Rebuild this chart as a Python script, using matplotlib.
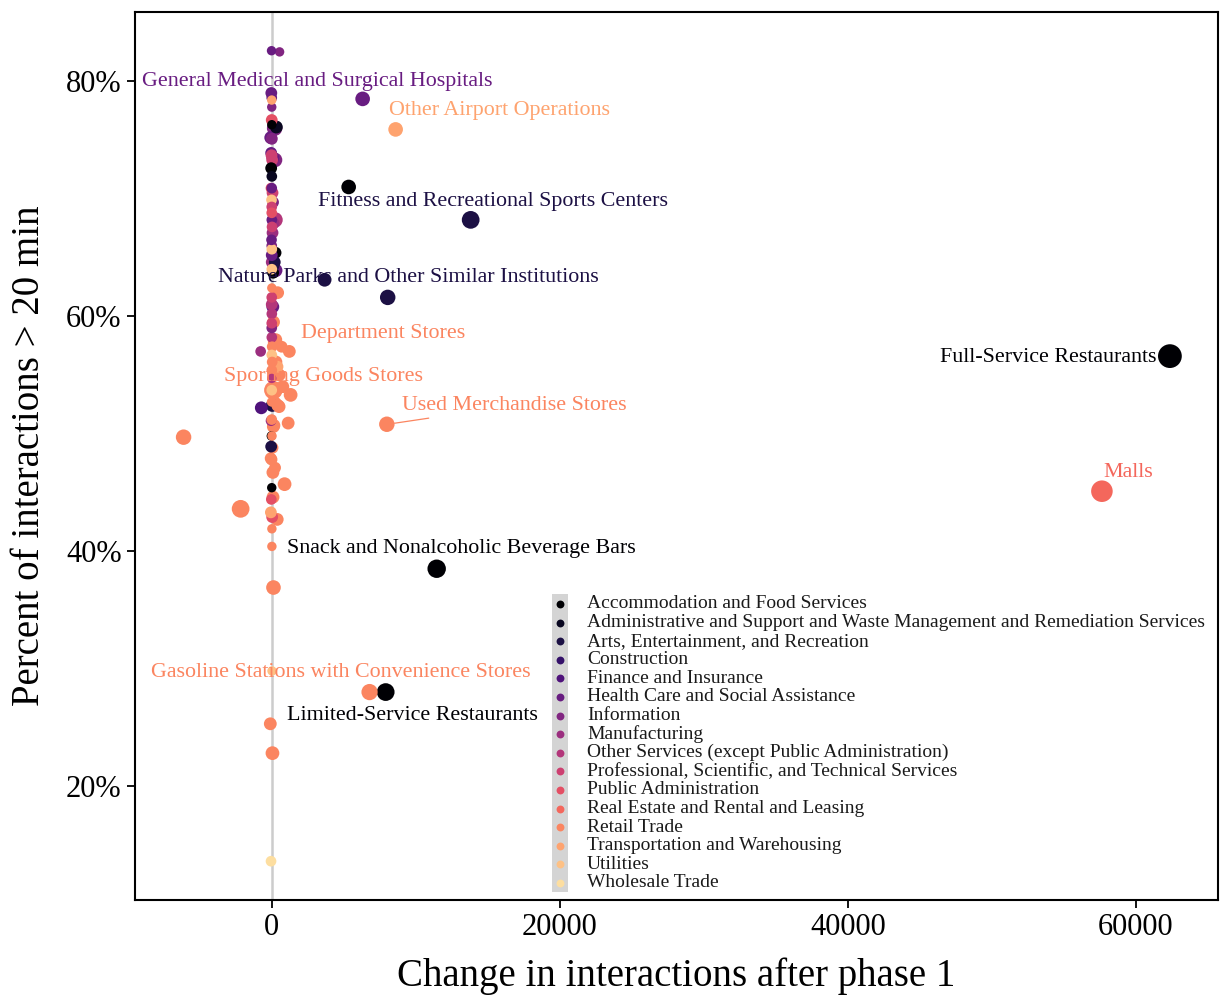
import matplotlib
matplotlib.use("Agg")
import matplotlib.pyplot as plt
import numpy as np
from matplotlib.patches import Rectangle

plt.rcParams["font.family"] = ["Liberation Serif", "DejaVu Serif"]

sectors = [
    "Accommodation and Food Services",
    "Administrative and Support and Waste Management and Remediation Services",
    "Arts, Entertainment, and Recreation",
    "Construction",
    "Finance and Insurance",
    "Health Care and Social Assistance",
    "Information",
    "Manufacturing",
    "Other Services (except Public Administration)",
    "Professional, Scientific, and Technical Services",
    "Public Administration",
    "Real Estate and Rental and Leasing",
    "Retail Trade",
    "Transportation and Warehousing",
    "Utilities",
    "Wholesale Trade",
]

# change in interactions, percent > 20 min, sector index, relative volume
change = [62360, 57640, 11460, 7920, 6800, 13820, 5350, 8060, 3680, 6320,
          8610, 8000, 120, -6110, -2150, 130, -90, 60, -40, 30,
          700, 1230, 780, 1320, 1150, 900, 420, 390, 530, 410,
          300, 380, 250, 430, 520, 160, 120, 240, 90, 100,
          150, 290, 135, 65, -65, -5, -5, 10, 30, 15,
          40, 40, 15, 20, 20, -50, -20, 40, 10, 15,
          -715, 40, -40, -20, -30, 10, -760, 10, 15, 10,
          10, 15, 85, 10, 10,
          -5, 555, -20, 10, 10, 10, 15, 210, 330, -60,
          15, -30, -5, 85, 40, 235, -30, 15, -45, 10,
          65, 100, -5, 10, 10, 235, 15, 135, 30, 65,
          -5, 10, 15, 275, 10, 220, 135, 10, 275, 15,
          110, 10]
pct_long = [56.6, 45.1, 38.5, 28.0, 28.0, 68.2, 71.0, 61.6, 63.1, 78.5,
            75.9, 50.8, 53.7, 49.7, 43.6, 36.9, 25.3, 22.8, 13.6, 29.8,
            57.4, 57.0, 54.0, 53.3, 50.9, 45.7, 62.0, 42.7, 55.0, 55.7,
            56.1, 53.8, 52.6, 52.4, 52.3, 50.7, 50.6, 47.1, 46.7, 44.6,
            57.8, 58.0, 59.5, 48.8, 47.9, 47.8, 52.7, 51.2, 49.8, 62.4,
            57.4, 56.1, 55.4, 41.9, 40.4, 43.3, 44.4, 42.9, 53.7, 56.7,
            52.2, 52.4, 51.1, 49.8, 48.9, 45.4, 57.0, 54.7, 58.2, 59.0,
            59.4, 60.2, 60.8, 61.0, 61.6,
            82.6, 82.5, 79.0, 78.6, 77.8, 76.7, 76.3, 76.0, 76.1, 75.2,
            75.1, 73.9, 73.7, 73.5, 73.3, 73.3, 72.6, 71.9, 70.9, 70.9,
            70.5, 69.7, 69.9, 69.3, 68.8, 68.2, 68.2, 67.9, 67.6, 67.1,
            66.5, 66.0, 65.7, 65.4, 65.2, 64.6, 64.3, 64.6, 63.9, 64.0,
            63.7, 78.4]
sector_idx = [0, 11, 0, 0, 12, 2, 0, 2, 2, 5,
              13, 12, 12, 12, 12, 12, 12, 12, 15, 14,
              12, 12, 12, 12, 12, 12, 12, 12, 12, 13,
              12, 12, 12, 12, 12, 12, 12, 12, 12, 12,
              12, 12, 12, 12, 12, 12, 12, 12, 12, 12,
              12, 12, 12, 12, 12, 13, 10, 10, 14, 14,
              4, 2, 7, 0, 2, 0, 7, 8, 8, 6,
              9, 8, 5, 8, 9,
              5, 6, 5, 5, 6, 10, 0, 6, 1, 5,
              6, 5, 9, 5, 9, 6, 0, 1, 10, 5,
              9, 6, 14, 9, 10, 8, 5, 7, 9, 7,
              5, 6, 14, 0, 5, 2, 2, 7, 5, 14,
              0, 13]
volume = [21, 17, 12, 11, 9, 11, 7, 8, 6, 7,
          7, 8, 12, 8, 11, 7, 5, 6, 3, 2,
          4, 5, 5, 6, 5, 6, 5, 5, 5, 4,
          5, 5, 5, 5, 5, 5, 5, 4, 5, 5,
          4, 5, 5, 4, 4, 4, 2, 3, 2, 2,
          3, 3, 3, 2, 2, 4, 3, 4, 3, 3,
          5, 5, 3, 2, 4, 2, 3, 2, 3, 3,
          3, 3, 5, 4, 3,
          2, 2, 4, 3, 2, 4, 2, 8, 5, 5,
          4, 4, 4, 5, 4, 7, 4, 3, 3, 3,
          4, 4, 3, 3, 3, 8, 3, 4, 3, 4,
          3, 3, 3, 4, 4, 4, 4, 4, 6, 3,
          4, 2]

# labelled industries: text, anchor x, anchor y, sector index, alignment
labels = [
    ("General Medical and Surgical Hospitals", -9030, 80.0, 5, "left"),
    ("Other Airport Operations", 8130, 77.5, 13, "left"),
    ("Fitness and Recreational Sports Centers", 3190, 69.8, 2, "left"),
    ("Nature Parks and Other Similar Institutions", -3750, 63.3, 2, "left"),
    ("Department Stores", 2010, 58.55, 12, "left"),
    ("Sporting Goods Stores", -3330, 54.9, 12, "left"),
    ("Full-Service Restaurants", 61420, 56.5, 0, "right"),
    ("Malls", 57750, 46.7, 11, "left"),
    ("Snack and Nonalcoholic Beverage Bars", 1040, 40.2, 0, "left"),
    ("Gasoline Stations with Convenience Stores", -8400, 29.7, 12, "left"),
    ("Limited-Service Restaurants", 1040, 26.0, 0, "left"),
]

palette = plt.cm.magma(np.linspace(0, 0.93, len(sectors)))

fig = plt.figure(figsize=(12.25, 9.96), dpi=100)
ax = fig.add_axes([0.110, 0.0964, 0.8843, 0.8916])

ax.axvline(0, color="#cccccc", lw=1.8, zorder=0)

x = np.array(change)
y = np.array(pct_long)
c = palette[np.array(sector_idx)]
s = 20 + 13 * np.array(volume)
order = np.argsort(s)[::-1]
ax.scatter(x[order], y[order], s=s[order], c=c[order], linewidths=0, zorder=2)

for txt, lx, ly, k, ha in labels:
    ax.text(lx, ly, txt, color=palette[k], fontsize=15.8, ha=ha, va="center", zorder=3)

ax.annotate("Used Merchandise Stores", xy=(8060, 50.8), xytext=(9030, 52.4),
            color=palette[12], fontsize=15.8, va="center", ha="left",
            arrowprops=dict(arrowstyle="-", color=palette[12], lw=0.9,
                            shrinkA=2, shrinkB=5))

ax.set_xlim(-9500, 65700)
ax.set_ylim(10.3, 85.9)
ax.set_xticks([0, 20000, 40000, 60000])
ax.set_yticks([20, 40, 60, 80])
ax.set_yticklabels(["20%", "40%", "60%", "80%"])
ax.tick_params(labelsize=22, length=6, width=1.3, colors="black")
for sp in ax.spines.values():
    sp.set_linewidth(1.5)
ax.set_xlabel("Change in interactions after phase 1", fontsize=28, labelpad=11)
ax.set_ylabel("Percent of interactions > 20 min", fontsize=28, labelpad=13)

# legend drawn inside the panel
ax.add_patch(Rectangle((0.385, 0.009), 0.0148, 0.3356, transform=ax.transAxes,
                       facecolor="#d4d4d4", edgecolor="none", zorder=4))
for i, name in enumerate(sectors):
    yy = (900 - 604 - 18.6 * i) / 888
    ax.scatter([0.3924], [yy], s=32, color=palette[i], transform=ax.transAxes,
               zorder=5, clip_on=False, linewidths=0)
    ax.text(0.4174, yy, name, transform=ax.transAxes, fontsize=14,
            va="center", ha="left", color="#1a1a1a", zorder=5)

fig.savefig("out.png", dpi=100)
